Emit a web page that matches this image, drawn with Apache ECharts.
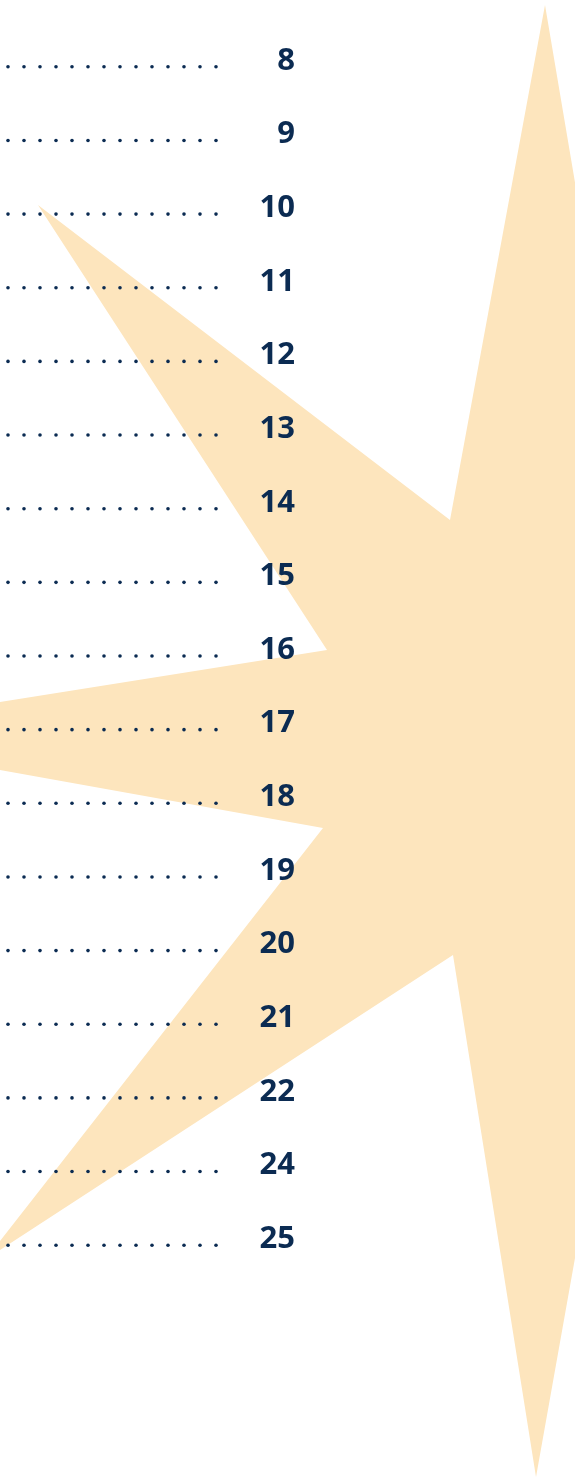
<!DOCTYPE html>
<html><head><meta charset="utf-8">
<style>html,body{margin:0;padding:0;background:#fff}#c{width:575px;height:1480px}</style>
<script src="https://cdn.jsdelivr.net/npm/echarts@6/dist/echarts.min.js"></script>
</head><body><div id="c"></div>
<script>
// Page numbers of the table of contents, top to bottom
const pageNumbers = ['8','9','10','11','12','13','14','15','16','17','18','19','20','21','22','24','25'];
// Length of each dotted leader (in x-axis units)
const leaderLengths = [224,224,224,224,224,224,224,224,224,224,224,224,224,224,224,224,224];
// Dots per leader
const dotsPerLeader = 14;
// Star decoration outline (left half, mirrored for the right half)
const starLeft = [[545,5],[450,520],[38,205],[327,650],[-200,734],[323,828],[-14,1259],[453,955],[536,1477]];

const navy = '#0b2b52';
const starFill = '#fde5bd';
const cx = 541;
const starPts = starLeft.slice();
for (let i = starLeft.length - 2; i > 0; i--) {
  const p = starLeft[i];
  starPts.push([2 * cx - p[0], p[1]]);
}

const chart = echarts.init(document.getElementById('c'), null, {renderer: 'canvas'});
chart.setOption({
  animation: false,
  backgroundColor: '#fff',
  graphic: [{
    type: 'polygon', z: -10, silent: true,
    shape: {points: starPts},
    style: {fill: starFill}
  }],
  grid: {left: 0, right: 280, top: 24, bottom: 204, containLabel: false},
  xAxis: {type: 'value', min: 0, max: 295, show: false},
  yAxis: [{
    type: 'category', inverse: true, data: pageNumbers, show: false
  }, {
    type: 'category', inverse: true, data: pageNumbers, position: 'right',
    axisLine: {show: false}, axisTick: {show: false}, splitLine: {show: false},
    axisLabel: {
      inside: true, margin: 0, color: navy,
      fontFamily: 'Open Sans', fontWeight: 700, fontSize: 31
    }
  }],
  series: [{
    type: 'pictorialBar',
    yAxisIndex: 0,
    data: leaderLengths.map(v => ({value: v, symbolBoundingData: v})),
    symbol: 'circle',
    symbolSize: [3.6, 3.6],
    symbolRepeat: dotsPerLeader,
    symbolMargin: '6.2!',
    symbolClip: false,
    symbolOffset: [0, 6],
    itemStyle: {color: navy},
    silent: true
  }]
});
</script></body></html>
